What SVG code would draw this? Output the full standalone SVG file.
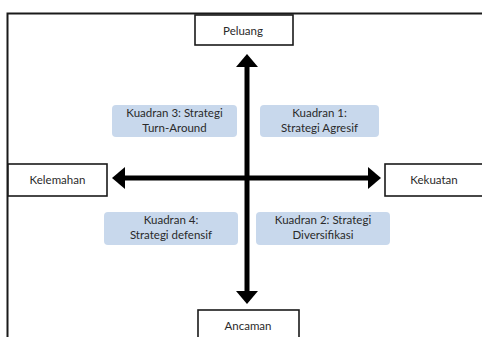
<svg xmlns="http://www.w3.org/2000/svg" width="482" height="337" viewBox="0 0 482 337">
<style>
.lbl{fill:#fff;stroke:#1a1a1a;stroke-width:1.6}
.q{fill:#c8d8ec}
text{font-family:Lato,"Open Sans","Noto Sans",sans-serif;font-size:11.5px;fill:#2a2a2a;text-anchor:middle}
.ax{stroke:#000;stroke-width:5;fill:none}
.hd{fill:#000}
</style>
<rect width="482" height="337" fill="#fff"/>
<path d="M7.5,345 V13.5 H490" fill="none" stroke="#1a1a1a" stroke-width="2"/>
<g id="connectors">
<line class="ax" x1="247" y1="66" x2="247" y2="293"/>
<line class="ax" x1="124" y1="178" x2="368" y2="178"/>
<polygon class="hd" points="247,54 236,67 258,67"/>
<polygon class="hd" points="247,304 236,291 258,291"/>
<polygon class="hd" points="112,178 125,167 125,189"/>
<polygon class="hd" points="381,178 368,167 368,189"/>
</g>
<g id="peluang"><rect class="lbl" x="195" y="15" width="98" height="30"/><text x="243" y="35">Peluang</text></g>
<g id="kelemahan"><rect class="lbl" x="8" y="164" width="99" height="32"/><text x="57.5" y="184">Kelemahan</text></g>
<g id="kekuatan"><rect class="lbl" x="385" y="164" width="110" height="32"/><text x="434" y="184">Kekuatan</text></g>
<g id="ancaman"><rect class="lbl" x="198" y="310" width="101" height="40"/><text x="248" y="330">Ancaman</text></g>
<g id="kuadran3"><rect class="q" x="112" y="105" width="125" height="32" rx="4"/><text x="174.5" y="117">Kuadran 3: Strategi</text><text x="174.5" y="131.5">Turn-Around</text></g>
<g id="kuadran1"><rect class="q" x="260" y="105" width="119" height="32" rx="4"/><text x="319.5" y="117">Kuadran 1:</text><text x="319.5" y="131.5">Strategi Agresif</text></g>
<g id="kuadran4"><rect class="q" x="104" y="212" width="134" height="33" rx="4"/><text x="171" y="224">Kuadran 4:</text><text x="171" y="238.5">Strategi defensif</text></g>
<g id="kuadran2"><rect class="q" x="256" y="212" width="134" height="33" rx="4"/><text x="323" y="224">Kuadran 2: Strategi</text><text x="323" y="238.5">Diversifikasi</text></g>
</svg>
